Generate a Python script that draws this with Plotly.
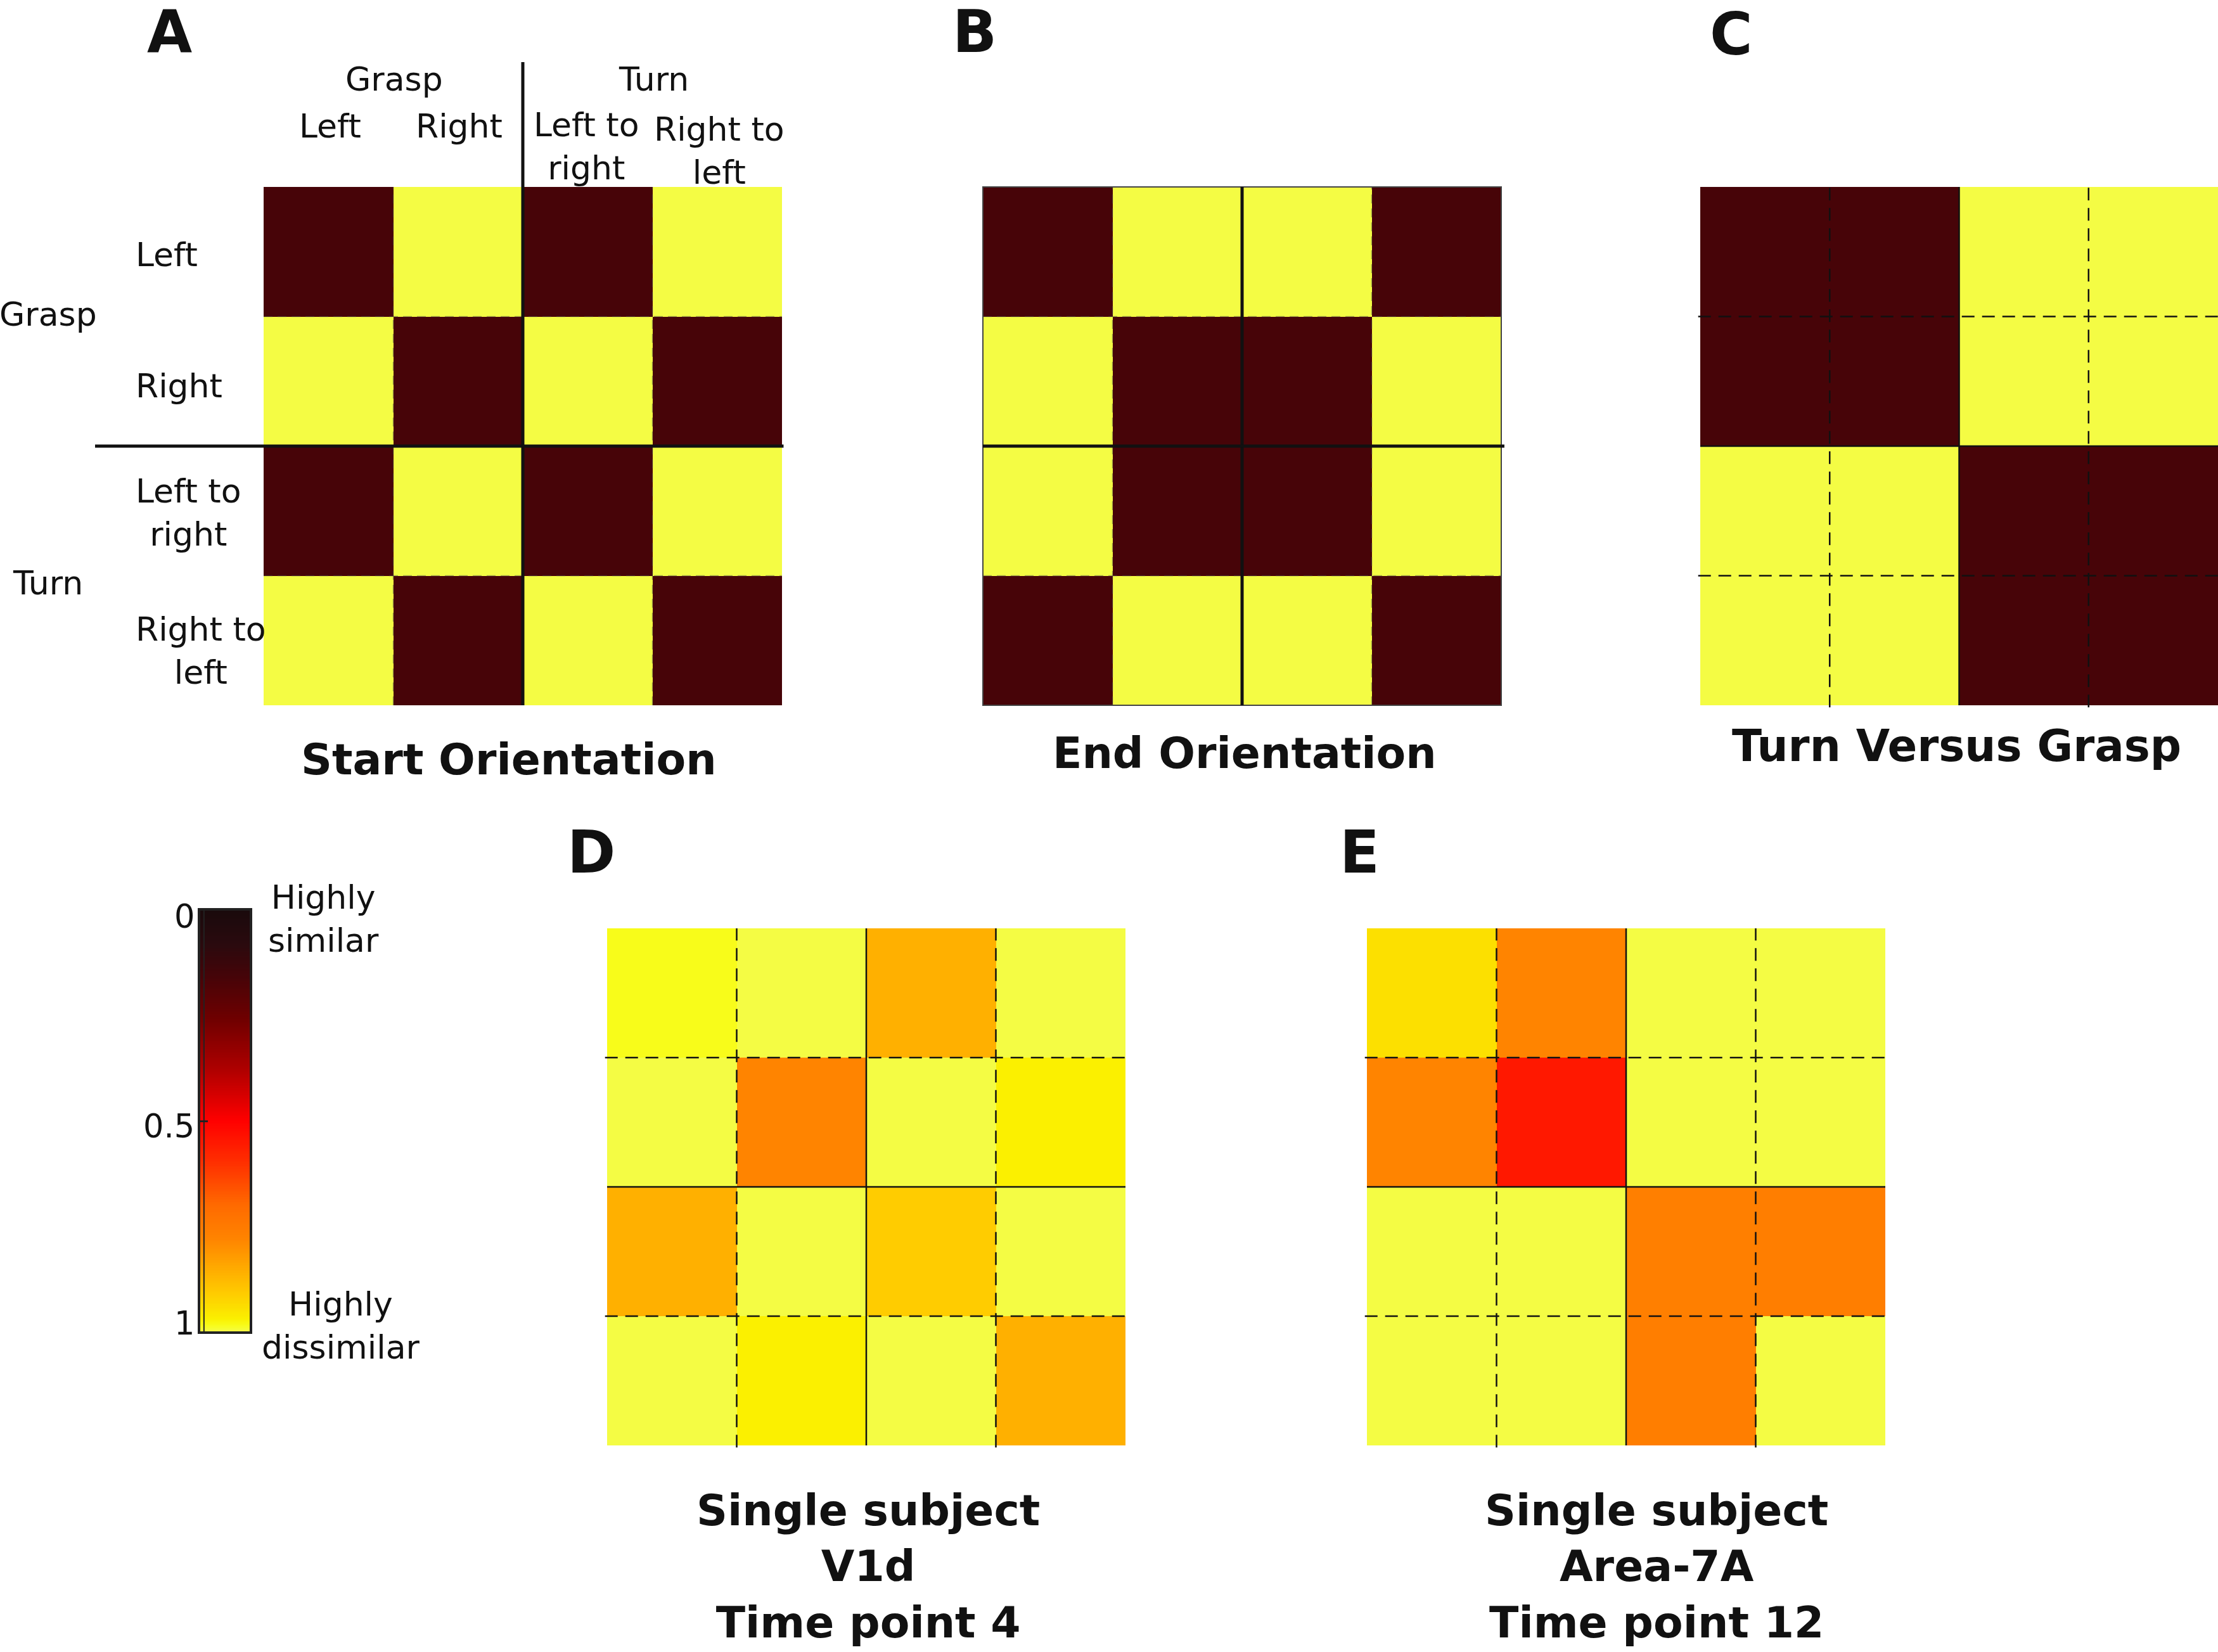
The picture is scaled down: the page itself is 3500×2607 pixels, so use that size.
import numpy as np
import plotly.graph_objects as go

# the page's default 8px body margin is removed (post_script below), so page pixels == figure pixels
W, H = 3500, 2607
FONT = "DejaVu Sans"

# ---------------- data ----------------
conditions = ["Grasp Left", "Grasp Right", "Turn Left to right", "Turn Right to left"]

start_orientation = [
    [0, 1, 0, 1],
    [1, 0, 1, 0],
    [0, 1, 0, 1],
    [1, 0, 1, 0],
]
end_orientation = [
    [0, 1, 1, 0],
    [1, 0, 0, 1],
    [1, 0, 0, 1],
    [0, 1, 1, 0],
]
turn_vs_grasp = [
    [0, 0, 1, 1],
    [0, 0, 1, 1],
    [1, 1, 0, 0],
    [1, 1, 0, 0],
]
v1d_tp4 = [
    [0.985, 1.00, 0.86, 1.00],
    [1.00, 0.78, 1.00, 0.97],
    [0.86, 1.00, 0.91, 1.00],
    [1.00, 0.97, 1.00, 0.86],
]
area7a_tp12 = [
    [0.945, 0.78, 1.00, 1.00],
    [0.78, 0.55, 1.00, 1.00],
    [1.00, 1.00, 0.765, 0.76],
    [1.00, 1.00, 0.76, 1.00],
]
cbar_ticks = [0, 0.5, 1]
cbar_ticktext = ["0", "0.5", "1"]

colorscale = [
    [0.00, "#1a0a0c"],
    [0.08, "#2a0a0e"],
    [0.16, "#470408"],
    [0.26, "#700000"],
    [0.38, "#b00000"],
    [0.50, "#ff0000"],
    [0.60, "#ff3000"],
    [0.70, "#ff6a00"],
    [0.78, "#ff8400"],
    [0.86, "#ffb000"],
    [0.91, "#ffcc00"],
    [0.945, "#fce000"],
    [0.97, "#fbf000"],
    [0.985, "#f8fc1a"],
    [1.00, "#f4fc44"],
]
MODEL_ZMIN = -0.16 / 0.84   # model 0s rendered as the dark maroon of the figure


def px_x(p):
    return p / W


def px_y(p):
    return 1 - p / H


def sfx(n):
    return "" if n == 1 else str(n)


fig = go.Figure()

# panel boxes in page pixels: (x0, x1, ytop, ybottom)
panels = {
    "A": (416, 1234, 295, 1113),
    "B": (1551, 2369, 295, 1113),
    "C": (2683, 3501, 295, 1113),
    "D": (958, 1776, 1465, 2281),
    "E": (2157, 2975, 1465, 2281),
}
mats = {
    "A": (start_orientation, MODEL_ZMIN),
    "B": (end_orientation, MODEL_ZMIN),
    "C": (turn_vs_grasp, MODEL_ZMIN),
    "D": (v1d_tp4, 0),
    "E": (area7a_tp12, 0),
}

layout_axes = {}
for i, key in enumerate(["A", "B", "C", "D", "E"]):
    n = i + 1
    s = sfx(n)
    x0, x1, yt, yb = panels[key]
    z, zmin = mats[key]
    fig.add_trace(go.Heatmap(
        z=z, x=[0, 1, 2, 3], y=[0, 1, 2, 3],
        colorscale=colorscale, zmin=zmin, zmax=1, showscale=False,
        xaxis=f"x{s}", yaxis=f"y{s}", hoverinfo="skip",
    ))
    ax = dict(showgrid=False, zeroline=False, showticklabels=False, ticks="",
              showline=False, fixedrange=True)
    layout_axes[f"xaxis{s}"] = dict(ax, domain=[max(0, px_x(x0)), min(1, px_x(x1))],
                                    range=[-0.5, 3.5], anchor=f"y{s}")
    layout_axes[f"yaxis{s}"] = dict(ax, domain=[px_y(yb), px_y(yt)], range=[3.5, -0.5],
                                    anchor=f"x{s}")

# colour bar as its own heatmap strip (0 at top, 1 at bottom)
levels = np.linspace(0, 1, 256)
fig.add_trace(go.Heatmap(
    z=[[v] for v in levels], x=[0], y=list(levels),
    colorscale=colorscale, zmin=0, zmax=1, showscale=False,
    xaxis="x6", yaxis="y6", hoverinfo="skip",
))
layout_axes["xaxis6"] = dict(domain=[px_x(316), px_x(394)], range=[-0.5, 0.5], anchor="y6",
                             showgrid=False, zeroline=False, showticklabels=False, ticks="",
                             showline=True, mirror=True, linewidth=4, linecolor="#222")
layout_axes["yaxis6"] = dict(domain=[px_y(2101), px_y(1437)], range=[1, 0], anchor="x6",
                             showgrid=False, zeroline=False, tickvals=cbar_ticks,
                             showticklabels=False, ticks="inside", ticklen=12, tickwidth=3,
                             tickcolor="#222", showline=True, mirror=True, linewidth=4,
                             linecolor="#222")

fig.update_layout(**layout_axes)

# ---------------- lines ----------------
shapes = []


def dline(n, x0, y0, x1, y1, width, color="#111", dash="solid"):
    s = sfx(n)
    shapes.append(dict(type="line", xref=f"x{s} domain", yref=f"y{s} domain",
                       x0=x0, y0=y0, x1=x1, y1=y1, layer="above",
                       line=dict(color=color, width=width, dash=dash)))


faint = "rgba(70,70,70,0.45)"
for n in (1, 2):
    for f in (0.25, 0.75):
        dline(n, f, 0, f, 1, 1.5, faint, "14px,8px")
        dline(n, 0, f, 1, f, 1.5, faint, "14px,8px")

# A: thick solid dividers extending out to the labels
dline(1, 0.5, 0, 0.5, 1 + (295 - 98) / 818, 5)
dline(1, -(416 - 150) / 818, 0.5, 1.003, 0.5, 5)
# B: thin frame + thick centre lines
shapes.append(dict(type="rect", xref="x2 domain", yref="y2 domain", x0=0, y0=0, x1=1, y1=1,
                   line=dict(color="#444", width=2), layer="above"))
dline(2, 0.5, 0, 0.5, 1, 5)
dline(2, 0, 0.5, 1.006, 0.5, 5)
# C, D, E: dashed quarter lines + thin solid centre lines
for n in (3, 4, 5):
    for f in (0.25, 0.75):
        dline(n, f, -0.004, f, 1, 2.5, "#111", "20px,12px")
        dline(n, -0.004, f, 1, f, 2.5, "#111", "20px,12px")
    dline(n, 0.5, 0, 0.5, 1, 2.5, "#111")
    dline(n, 0, 0.5, 1, 0.5, 2.5, "#111")
# colour bar: thin inner rule next to its left border
dline(6, 0.075, 0, 0.075, 1, 2, "#222")

fig.update_layout(shapes=shapes)

# ---------------- text ----------------
anns = []


def ann(text, x, y, size=52, bold=False, xanchor="center", align="center"):
    if bold:
        text = "<br>".join(f"<b>{t}</b>" for t in text.split("<br>"))
    anns.append(dict(text=text, x=px_x(x), y=px_y(y), xref="paper", yref="paper",
                     xanchor=xanchor, yanchor="middle", align=align, showarrow=False,
                     font=dict(family=FONT, size=size, color="#111")))


for letter, (x, y) in {"A": (267, 50), "B": (1538, 50), "C": (2732, 54),
                       "D": (933, 1345), "E": (2145, 1345)}.items():
    ann(letter, x, y, size=92, bold=True)

ann("Grasp", 622, 125)
ann("Turn", 1031, 125)
ann("Left", 521, 199)
ann("Right", 724, 199)
ann("Left to<br>right", 925, 231)
ann("Right to<br>left", 1135, 238)

ann("Left", 212, 402, xanchor="left")
ann("Right", 212, 609, xanchor="left")
ann("Left to<br>right", 212, 809, xanchor="left")
ann("Right to<br>left", 212, 1027, xanchor="left")
ann("Grasp", -3, 496, xanchor="left")
ann("Turn", 75, 920)

# colour-bar tick labels (placed beside the bar like the original)
for v, label, ypx in zip(cbar_ticks, cbar_ticktext, [1446, 1777, 2088]):
    ann(label, 309, ypx, size=51, xanchor="right")

ann("Highly<br>similar", 510, 1450)
ann("Highly<br>dissimilar", 538, 2092)

ann("Start Orientation", 803, 1198, size=68, bold=True)
ann("End Orientation", 1964, 1188, size=68, bold=True)
ann("Turn Versus Grasp", 3087, 1177, size=69, bold=True)
ann("Single subject<br>V1d<br>Time point 4", 1370, 2472, size=68, bold=True)
ann("Single subject<br>Area-7A<br>Time point 12", 2614, 2472, size=68, bold=True)

fig.update_layout(
    annotations=anns,
    width=W, height=H,
    margin=dict(l=0, r=0, t=0, b=0, autoexpand=False),
    paper_bgcolor="white", plot_bgcolor="white",
    font=dict(family=FONT, color="#111"),
    showlegend=False,
)

fig.write_html(
    "out.html",
    config={"displayModeBar": False},
    post_script="document.body.style.margin='0px';"
                "document.documentElement.style.overflow='hidden';"
                "document.body.style.overflow='hidden';",
)
